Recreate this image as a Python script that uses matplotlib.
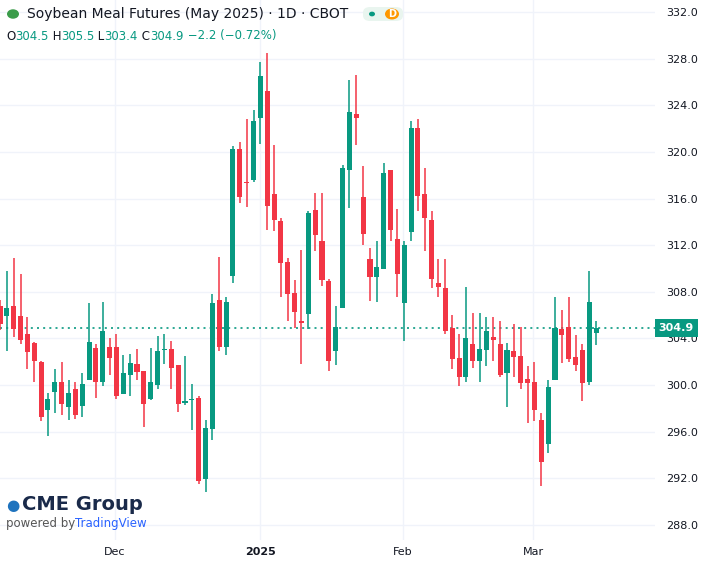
import matplotlib
matplotlib.use("Agg")
import matplotlib.pyplot as plt
from matplotlib.patches import Rectangle, Circle, FancyBboxPatch

opens = [306.8,305.9,306.8,305.9,304.4,303.6,302.0,297.9,299.4,300.3,298.1,299.7,298.2,300.4,303.2,300.3,303.3,303.3,299.2,300.9,301.8,301.2,298.8,300.0,303.0,303.1,301.7,298.5,298.7,298.9,291.9,296.2,307.3,303.3,309.4,320.3,317.4,317.6,322.9,325.2,316.4,314.1,310.6,307.9,305.5,306.1,315.0,312.4,308.9,302.9,306.6,318.5,323.3,316.1,310.8,309.3,310.0,318.5,312.5,307.0,313.1,322.1,316.4,314.2,308.8,308.3,304.9,302.3,300.7,303.5,302.1,303.0,304.1,303.5,301.0,302.9,302.5,300.5,300.3,297.0,294.9,300.4,304.8,305.0,302.4,303.0,300.3,304.5]
highs = [307.3,309.8,310.9,309.5,305.8,303.7,302.1,299.3,301.4,302.0,300.4,300.3,301.0,307.0,303.5,307.1,304.0,304.4,302.6,302.7,303.1,301.2,303.2,304.2,304.4,303.8,301.7,302.5,300.1,299.1,297.0,307.8,311.0,307.6,320.5,320.9,322.8,323.6,327.7,328.5,320.6,314.3,310.9,309.0,311.6,314.9,316.5,316.5,309.1,306.8,318.9,326.2,326.6,318.8,311.8,312.4,319.1,318.5,315.1,312.4,322.7,322.8,318.6,314.9,310.8,310.8,306.0,304.4,308.4,306.2,306.2,305.8,305.8,305.5,303.6,305.2,305.0,301.6,302.0,297.6,300.4,307.6,306.4,307.6,304.3,303.5,309.8,305.5]
lows = [304.7,302.9,304.1,303.5,301.4,300.3,296.9,295.6,297.6,297.4,297.0,297.1,297.3,300.4,298.9,299.9,300.9,298.8,299.2,299.1,300.4,296.4,298.7,299.7,301.8,299.7,297.7,298.3,296.1,291.5,290.8,295.3,302.9,302.6,308.8,315.6,315.3,317.4,320.7,313.3,313.2,307.6,305.5,304.9,301.8,304.8,311.5,308.5,301.2,301.7,306.6,315.2,320.6,312.0,307.2,307.1,310.0,312.4,307.6,303.8,312.4,314.9,311.5,308.3,307.6,304.4,301.4,299.9,300.3,301.5,300.3,301.6,302.1,300.7,298.1,300.7,299.7,296.7,296.9,291.3,294.2,300.4,301.9,302.0,301.2,298.6,300.0,303.4]
closes = [305.2,306.6,304.8,303.9,302.8,302.1,297.3,298.8,300.3,298.4,299.3,297.4,300.1,303.7,300.3,304.6,302.3,299.1,301.0,301.9,301.1,298.4,300.3,302.9,303.1,301.5,298.4,298.6,298.8,291.8,296.3,307.0,303.3,307.1,320.3,316.1,317.3,322.7,326.5,315.4,314.2,310.5,307.8,306.3,305.3,314.8,312.9,309.0,302.1,305.0,318.6,323.4,322.9,313.0,309.3,310.1,318.2,313.3,309.5,312.0,322.1,316.2,314.3,309.1,308.4,304.6,302.2,300.7,304.0,302.1,303.1,304.6,303.9,300.9,303.0,302.4,300.2,300.2,297.9,293.4,299.8,304.9,304.3,302.2,301.7,300.2,307.1,304.9]
month_labels = ["Dec", "2025", "Feb", "Mar"]
month_pos = [16.8, 38.0, 58.8, 77.8]
yticks = [288, 292, 296, 300, 304, 308, 312, 316, 320, 324, 328, 332]
last_price = 304.9

GREEN = "#089981"
RED = "#F23645"
TXT = "#131722"

fig = plt.figure(figsize=(7.15, 5.63), dpi=100)
ax = fig.add_axes([0, 23/563, 655/715, 540/563])
ax.set_xlim(0, 95.6)
ax.set_ylim(286.7, 333.05)

for i, (o, h, l, c) in enumerate(zip(opens, highs, lows, closes)):
    col = GREEN if c >= o else RED
    ax.plot([i, i], [l, h], color=col, lw=1.1, zorder=3, solid_capstyle="butt")
    lo, hi = min(o, c), max(o, c)
    ax.add_patch(Rectangle((i - 0.37, lo), 0.74, max(hi - lo, 0.12),
                           facecolor=col, edgecolor="none", zorder=4))

for y in yticks:
    ax.axhline(y, color="#F0F3FA", lw=1, zorder=0)
for x in month_pos:
    ax.axvline(x, color="#F0F3FA", lw=1, zorder=0)
ax.axhline(last_price, color=GREEN, lw=1.2, ls=(0, (1.2, 2.5)), zorder=2)

ax.yaxis.tick_right()
ax.set_yticks(yticks)
ax.set_yticklabels([f"{v:.1f}" for v in yticks], fontsize=8, color=TXT)
ax.set_xticks(month_pos)
ax.set_xticklabels(month_labels, fontsize=8, color=TXT)
ax.get_xticklabels()[1].set_fontweight("bold")
ax.tick_params(length=0, pad=5)
ax.tick_params(axis="y", pad=8)
for s in ax.spines.values():
    s.set_visible(False)

ax.text(1.0 + 4/715, last_price, f"{last_price:.1f}", transform=ax.get_yaxis_transform(),
        fontsize=8, color="white", fontweight="bold", va="center", ha="left",
        bbox=dict(boxstyle="square,pad=0.35", fc=GREEN, ec="none"), zorder=10)

# header
fig.patches.append(Circle((13/715, 1 - 14/563), 6/715, transform=fig.transFigure, fc="#3b9c4a", ec="none"))
fig.text(27/715, 1 - 14/563, "Soybean Meal Futures (May 2025) · 1D · CBOT", fontsize=10,
         color=TXT, va="center")
fig.patches.append(FancyBboxPatch((363/715, 1 - 21/563), 40/715, 14/563,
                                  boxstyle="round,pad=0,rounding_size=0.01",
                                  transform=fig.transFigure, fc="#e9f5ef", ec="none"))
fig.patches.append(Circle((372/715, 1 - 14/563), 3/715, transform=fig.transFigure, fc=GREEN, ec="none"))
fig.patches.append(Circle((392/715, 1 - 14/563), 7/715, transform=fig.transFigure, fc="#FF9800", ec="none"))
fig.text(392/715, 1 - 14/563, "D", fontsize=7, color="white", va="center", ha="center", fontweight="bold")

parts = [("O", TXT), ("304.5", GREEN), (" H", TXT), ("305.5", GREEN), (" L", TXT),
         ("303.4", GREEN), (" C", TXT), ("304.9", GREEN), (" −2.2 (−0.72%)", GREEN)]
x = 6
fig.canvas.draw()
r = fig.canvas.get_renderer()
for s, c in parts:
    t = fig.text(x/715, 1 - 36/563, s, fontsize=8.5, color=c, va="center")
    x += t.get_window_extent(r).width

fig.text(6/715, 1 - 505/563, "\u25CF", fontsize=11, color="#1e73be", va="center")
fig.text(22/715, 1 - 505/563, "CME Group", fontsize=14, color="#1a2a4a", va="center", fontweight="bold")
fig.text(6/715, 1 - 524/563, "powered by ", fontsize=8.5, color="#555", va="center")
fig.text(75/715, 1 - 524/563, "TradingView", fontsize=8.5, color="#2962FF", va="center")

fig.savefig("out.png", dpi=100, facecolor="white")
